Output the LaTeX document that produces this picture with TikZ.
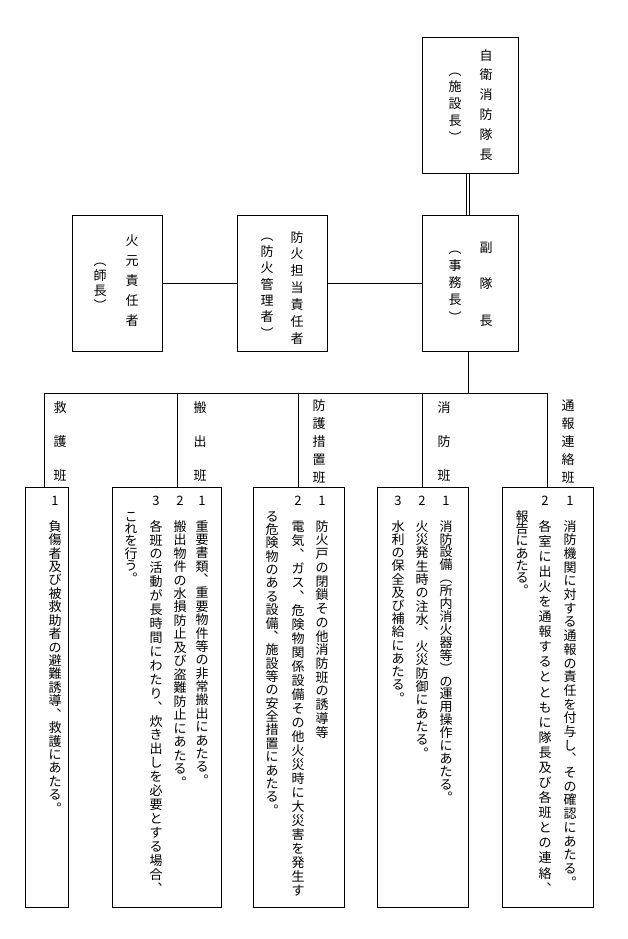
\documentclass[tikz,border=0pt]{standalone}
\usepackage{fontspec}
\setmainfont{Noto Sans CJK JP}
\usetikzlibrary{calc}
\def\vtend{VTEND}
\def\vtitem#1{\vbox to 0pt{\vss\hbox to 0pt{\hss\vrule height .88em depth .12em width 0pt\relax#1\hss}\vss}}
\def\vtfirst#1{\vtitem{#1}\vtloop}
\def\vtloop#1{\ifx#1\vtend\else\vfill\vtitem{#1}\expandafter\vtloop\fi}
\newcommand\vtxt[2]{\vbox to #1{\offinterlineskip\vtfirst#2\vtend}}
\tikzset{
  every node/.append style={font=\fontsize{13}{15}\selectfont},
  box/.style={draw, line width=0.8pt, inner sep=0pt, outer sep=0pt},
  vt/.style={anchor=north, inner sep=0pt},
  num/.style={inner sep=0pt},
  conn/.style={line width=0.8pt}
}
\begin{document}
\begin{tikzpicture}[x=1pt,y=-1pt]
\useasboundingbox[fill=white] (0,0) rectangle (628,939);
% top boxes
\node[box, minimum width=96pt, minimum height=136pt] (chief) at (470,105) {};
\node[box, minimum width=96pt, minimum height=136pt] (vice) at (470,283) {};
\node[box, minimum width=90pt, minimum height=136pt] (hm) at (117,283) {};
\node[box, minimum width=90pt, minimum height=136pt] (bk) at (282,283) {};
\coordinate (vx) at (468,0);
\coordinate (vxa) at (466.8,0);
\coordinate (vxb) at (469.6,0);
\draw[conn] (chief.south -| vxa) -- (vice.north -| vxa);
\draw[conn] (chief.south -| vxb) -- (vice.north -| vxb);
\draw[conn] (hm.east) -- (bk.west);
\draw[conn] (bk.east) -- (vice.west);
% labels in top boxes
\node[vt] (l1) at (486,55) {\vtxt{99pt}{自衛消防隊長}};
\node[vt] (l2) at (455,70) {\vtxt{67pt}{︵施設長︶}};
\node[vt] (l3) at (486,247) {\vtxt{73pt}{副隊長}};
\node[vt] (l4) at (455,248) {\vtxt{69pt}{︵事務長︶}};
\node[vt] (l5) at (132,240) {\vtxt{80pt}{火元責任者}};
\node[vt] (l6) at (100,260) {\vtxt{45pt}{︵師長︶}};
\node[vt] (l7) at (297,237) {\vtxt{101pt}{防火担当責任者}};
\node[vt] (l8) at (267,235) {\vtxt{98pt}{︵防火管理者︶}};
% bottom boxes
\node[box, minimum width=43pt, minimum height=420pt] (b1) at (46.5,697) {};
\node[box, minimum width=109pt, minimum height=420pt] (b2) at (166.5,697) {};
\node[box, minimum width=91pt, minimum height=420pt] (b3) at (298.5,697) {};
\node[box, minimum width=91pt, minimum height=420pt] (b4) at (422.5,697) {};
\node[box, minimum width=91pt, minimum height=420pt] (b5) at (547.5,697) {};
% bus
\coordinate (t1) at (44,393);
\coordinate (t2) at (177,393);
\coordinate (t3) at (298,393);
\coordinate (t4) at (422,393);
\coordinate (t5) at (547,393);
\draw[conn] (vice.south -| vx) -- (vx |- t1);
\draw[conn] (t1) -- (t5);
\draw[conn] (t1) -- (t1 |- b1.north);
\draw[conn] (t2) -- (t2 |- b2.north);
\draw[conn] (t3) -- (t3 |- b3.north);
\draw[conn] (t4) -- (t4 |- b4.north);
\draw[conn] (t5) -- (t5 |- b5.north);
% group labels
\node[vt] (g1) at (60,407) {\vtxt{68pt}{救護班}};
\node[vt] (g2) at (200,407) {\vtxt{68pt}{搬出班}};
\node[vt] (g3) at (319,405) {\vtxt{72pt}{防護措置班}};
\node[vt] (g4) at (444,407) {\vtxt{68pt}{消防班}};
\node[vt] (g5) at (568,405) {\vtxt{72pt}{通報連絡班}};
% box 1
\node[num] (n11) at (55,501) {1};
\node[vt] (c11) at (55,526) {\vtxt{282pt}{負傷者及び被救助者の避難誘導︑救護にあたる︒}};
% box 2
\node[num] (n21) at (202,501) {1};
\node[num] (n22) at (180,501) {2};
\node[num] (n23) at (156,501) {3};
\node[vt] (c21) at (202,526) {\vtxt{254pt}{重要書類︑重要物件等の非常搬出にあたる︒}};
\node[vt] (c22) at (180,526) {\vtxt{256pt}{搬出物件の水損防止及び盗難防止にあたる︒}};
\node[vt] (c23) at (156,526) {\vtxt{362pt}{各班の活動が長時間にわたり︑炊き出しを必要とする場合︑}};
\node[vt] (c24) at (131,516) {\vtxt{62pt}{これを行う︒}};
% box 3
\node[num] (n31) at (322,501) {1};
\node[num] (n32) at (298,501) {2};
\node[vt] (c31) at (322,526) {\vtxt{206pt}{防火戸の閉鎖その他消防班の誘導等}};
\node[vt] (c32) at (298,526) {\vtxt{364pt}{電気︑ガス︑危険物関係設備その他火災時に大災害を発生す}};
\node[vt] (c33) at (272,516) {\vtxt{294pt}{る危険物のある設備︑施設等の安全措置にあたる︒}};
% box 4
\node[num] (n41) at (446,501) {1};
\node[num] (n42) at (422,501) {2};
\node[num] (n43) at (398,501) {3};
\node[vt] (c41) at (446,526) {\vtxt{271pt}{消防設備︵所内消火器等︶の運用操作にあたる︒}};
\node[vt] (c42) at (422,526) {\vtxt{227pt}{火災発生時の注水︑火災防御にあたる︒}};
\node[vt] (c43) at (398,526) {\vtxt{172pt}{水利の保全及び補給にあたる︒}};
% box 5
\node[num] (n51) at (570,501) {1};
\node[num] (n52) at (545,501) {2};
\node[vt] (c51) at (570,526) {\vtxt{356pt}{消防機関に対する通報の責任を付与し︑その確認にあたる︒}};
\node[vt] (c52) at (545,526) {\vtxt{362pt}{各室に出火を通報するとともに隊長及び各班との連絡︑}};
\node[vt] (c53) at (522,516) {\vtxt{74pt}{報告にあたる︒}};
\end{tikzpicture}
\end{document}
